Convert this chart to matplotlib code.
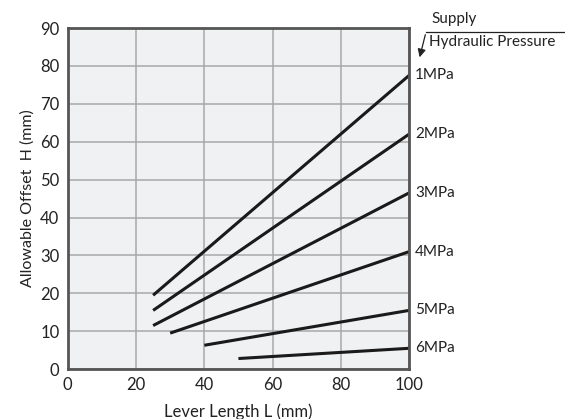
import matplotlib.pyplot as plt

plt.rcParams['font.family'] = ['Lato', 'DejaVu Sans']

pressures = ['1MPa', '2MPa', '3MPa', '4MPa', '5MPa', '6MPa']
lever_start = [25, 25, 25, 30, 40, 50]
lever_end = [100, 100, 100, 100, 100, 100]
offset_start = [19.5, 15.5, 11.5, 9.5, 6.3, 2.8]
offset_end = [77.5, 62, 46.5, 31, 15.5, 5.5]

x_ticks = [0, 20, 40, 60, 80, 100]
y_ticks = [0, 10, 20, 30, 40, 50, 60, 70, 80, 90]

fig = plt.figure(figsize=(5.65, 4.19), dpi=100)
ax = fig.add_axes([0.120, 0.119, 0.604, 0.814])
ax.set_facecolor('#f0f1f3')

for name, x0, x1, y0, y1 in zip(pressures, lever_start, lever_end, offset_start, offset_end):
    ax.plot([x0, x1], [y0, y1], color='#1a1a1a', lw=2.2, solid_capstyle='butt')
    ax.text(x1 + 1.8, y1, name, fontsize=11, va='center', ha='left', color='#222222')

ax.set_xlim(0, 100)
ax.set_ylim(0, 90)
ax.set_xticks(x_ticks)
ax.set_yticks(y_ticks)
ax.tick_params(length=0, labelsize=12, colors='#222222', pad=6)
ax.grid(True, color='#a8a8a8', lw=1.1)
ax.set_axisbelow(True)
for s in ax.spines.values():
    s.set_color('#555555')
    s.set_linewidth(2)

ax.set_xlabel('Lever Length L (mm)', fontsize=12, color='#222222', labelpad=7)
ax.set_ylabel('Allowable Offset  H (mm)', fontsize=11.5, color='#222222', labelpad=4)

# supply pressure note with arrow
fig.text(431 / 565, 1 - 19 / 419, 'Supply', fontsize=11, va='center', ha='left', color='#222222')
fig.text(429 / 565, 1 - 42 / 419, 'Hydraulic Pressure', fontsize=11, va='center', ha='left', color='#222222')
fig.add_artist(plt.Line2D([426 / 565, 1.0], [1 - 32 / 419, 1 - 32 / 419], color='#222222', lw=0.9))
ax.annotate('', xy=(419 / 565, 1 - 60 / 419), xycoords='figure fraction',
            xytext=(426 / 565, 1 - 32 / 419), textcoords='figure fraction',
            arrowprops=dict(arrowstyle='-|>', color='#222222', lw=0.9, mutation_scale=12),
            annotation_clip=False)

plt.savefig('out.png', dpi=100)
